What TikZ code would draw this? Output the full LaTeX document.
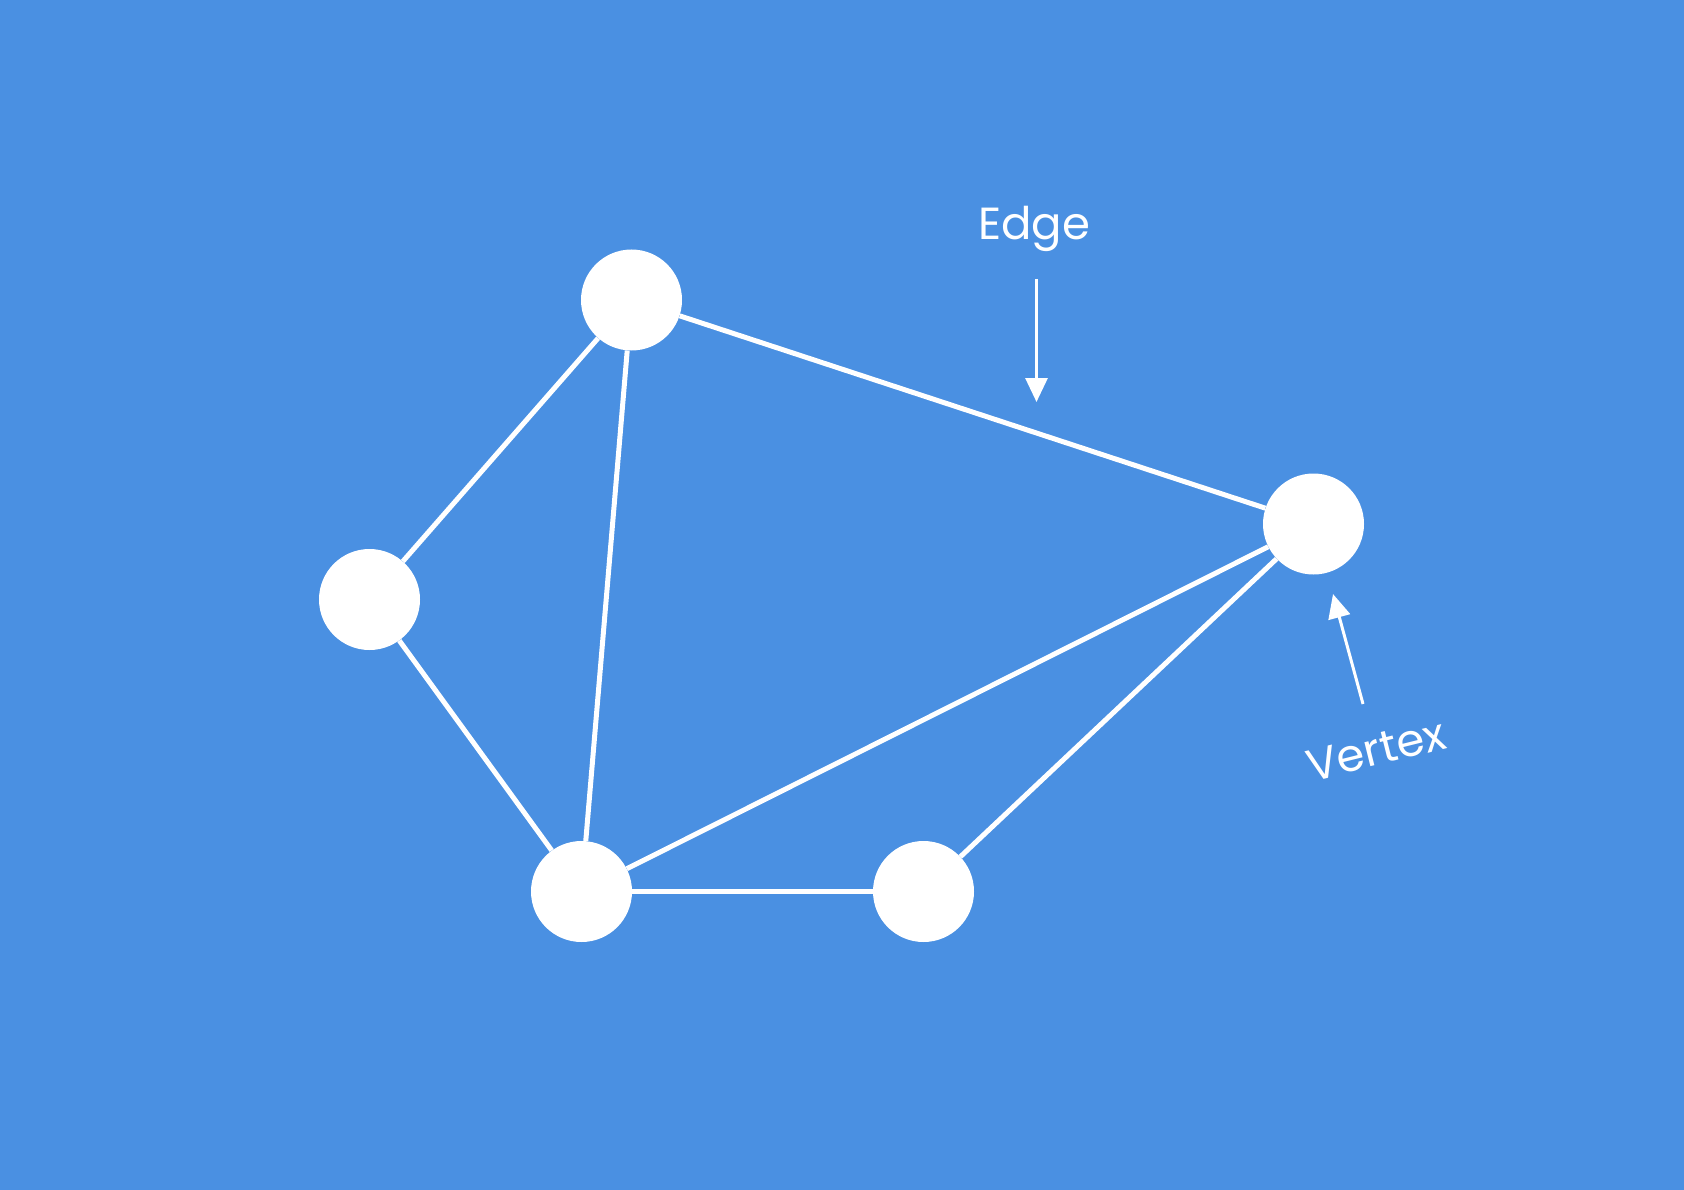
\documentclass[tikz,border=0pt]{standalone}
\usepackage{fontspec}
\setmainfont{Poppins}
\usetikzlibrary{arrows.meta}
\definecolor{skyblue}{HTML}{4A90E2}
\begin{document}
\begin{tikzpicture}[x=1pt, y=-1pt, every node/.style={shape=circle,fill=white,
                  minimum size=101pt,inner sep=0pt},
                  edge/.style={white,line width=5pt},
                  pointer/.style={white,line width=3pt,-{Triangle[length=24pt,width=22pt]}},
                  note/.style={shape=rectangle,fill=none,minimum size=0pt,text=white,
                  font=\fontsize{45}{50}\selectfont}]
              \fill[skyblue] (0,0) rectangle (1684,1190);
              \node (t) at (631.5,300) {};
              \node (l) at (369.5,599.5) {};
              \node (b1) at (581.5,891.5) {};
              \node (b2) at (923.5,891.5) {};
              \node (r) at (1313.5,524) {};
              \draw[edge] (t) -- (l);
              \draw[edge] (t) -- (b1);
              \draw[edge] (t) -- (r);
              \draw[edge] (l) -- (b1);
              \draw[edge] (b1) -- (r);
              \draw[edge] (b1) -- (b2);
              \draw[edge] (b2) -- (r);
              \node[note] (edgelabel) at (1034,229) {Edge};
              \node[note, rotate=14] (vertexlabel) at (1376,750) {Vertex};
              \coordinate (e1) at (1036.5,279);
              \coordinate (e2) at (1036.5,402);
              \coordinate (v1) at (1363,704);
              \coordinate (v2) at (1333,594);
              \draw[pointer] (e1) -- (e2);
              \draw[pointer] (v1) -- (v2);
          \end{tikzpicture}
\end{document}
